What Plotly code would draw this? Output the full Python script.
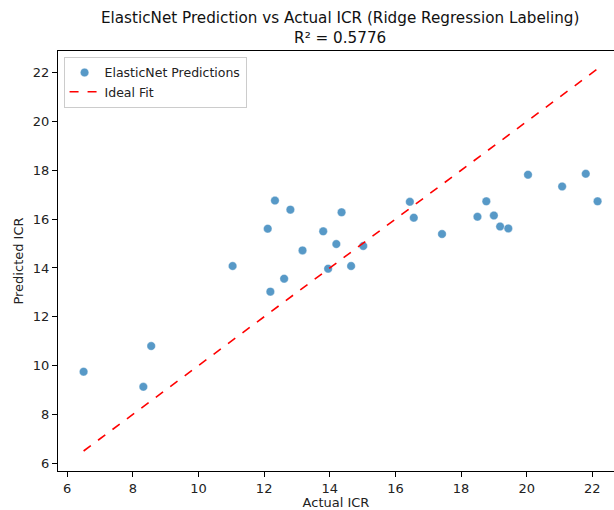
import plotly.graph_objects as go

# Actual vs predicted ICR values
actual_icr = [6.50, 8.32, 8.56, 11.04, 12.11, 12.33, 12.19, 12.61, 12.80, 13.17,
              13.80, 13.95, 14.20, 14.36, 14.65, 15.02, 16.44, 16.56, 17.42, 18.50,
              18.77, 19.00, 19.19, 19.44, 20.04, 21.08, 21.80, 22.16]
predicted_icr = [9.75, 9.13, 10.80, 14.08, 15.61, 16.76, 13.03, 13.56, 16.39, 14.72,
                 15.50, 13.97, 14.98, 16.28, 14.08, 14.90, 16.71, 16.06, 15.39, 16.10,
                 16.73, 16.15, 15.70, 15.62, 17.82, 17.34, 17.86, 16.73]
r2_score = 0.5776

tick_vals = [6, 8, 10, 12, 14, 16, 18, 20, 22]

lo, hi = min(actual_icr), max(actual_icr)

fig = go.Figure()
fig.add_trace(go.Scatter(
    x=actual_icr, y=predicted_icr, mode="markers",
    name="ElasticNet Predictions",
    marker=dict(color="rgba(31,119,180,0.75)", size=8.5,
                line=dict(color="rgba(255,255,255,0.6)", width=0.6)),
))
fig.add_trace(go.Scatter(
    x=[lo, hi], y=[lo, hi], mode="lines", name="Ideal Fit",
    line=dict(color="red", width=1.6, dash="dash"),
))

font = "DejaVu Sans"
fig.update_layout(
    width=614, height=510,
    margin=dict(l=58, r=0, t=51, b=39),
    paper_bgcolor="white", plot_bgcolor="white",
    font=dict(family=font, size=13, color="#222"),
    showlegend=True,
    legend=dict(x=0.01, y=0.986, xanchor="left", yanchor="top",
                bgcolor="rgba(255,255,255,0.8)", bordercolor="#ccc", borderwidth=1,
                font=dict(size=12.5), itemwidth=30, tracegroupgap=0),
    annotations=[dict(
        text=f"ElasticNet Prediction vs Actual ICR (Ridge Regression Labeling)<br>R² = {r2_score:.4f}",
        xref="paper", yref="paper", x=0.507, y=1.0, yshift=2,
        xanchor="center", yanchor="bottom", showarrow=False,
        font=dict(size=15.2, color="#111"),
    )],
)
fig.update_xaxes(
    range=[5.72, 22.66], tickvals=tick_vals, ticks="outside", ticklen=5,
    tickcolor="black", showline=True, linecolor="black", linewidth=1,
    mirror=True, showgrid=False, zeroline=False,
    title=dict(text="Actual ICR", font=dict(size=13), standoff=6),
)
fig.update_yaxes(
    range=[5.68, 22.89], tickvals=tick_vals, ticks="outside", ticklen=5,
    tickcolor="black", showline=True, linecolor="black", linewidth=1,
    showgrid=False, zeroline=False,
    title=dict(text="Predicted ICR", font=dict(size=13), standoff=6),
)

fig.write_html("out.html")
